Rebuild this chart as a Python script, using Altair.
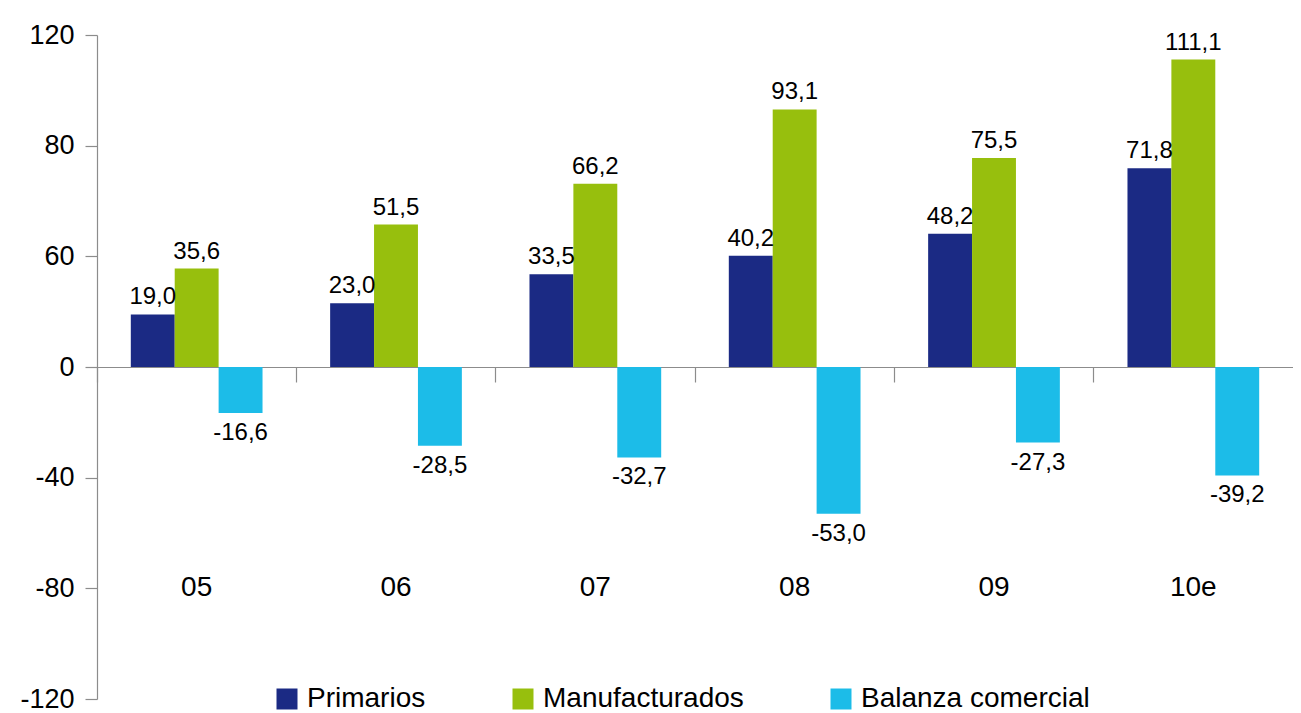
import altair as alt
import pandas as pd

years = ["05", "06", "07", "08", "09", "10e"]
series = ["Primarios", "Manufacturados", "Balanza comercial"]
primarios = [19.0, 23.0, 33.5, 40.2, 48.2, 71.8]
manufacturados = [35.6, 51.5, 66.2, 93.1, 75.5, 111.1]
balanza = [-16.6, -28.5, -32.7, -53.0, -27.3, -39.2]
colors = ["#1B2A84", "#97BF0D", "#1CBCE8"]
y_ticks = [-120, -80, -40, 0, 40, 80, 120]
cat_label_level = -80

rows = []
for s, vals in zip(series, [primarios, manufacturados, balanza]):
    for yr, v in zip(years, vals):
        rows.append({"year": yr, "serie": s, "valor": v,
                     "etiqueta": f"{v:.1f}".replace(".", ",")})
df = pd.DataFrame(rows)
cats = pd.DataFrame({"year": years})

W, H = 1196, 664
FONT = "Liberation Sans"
AXIS_GREY = "#8C8C8C"

x_enc = alt.X(
    "year:N", sort=years,
    scale=alt.Scale(paddingInner=0, paddingOuter=0),
    axis=alt.Axis(title=None, labels=False, bandPosition=0, offset=-H / 2,
                  tickSize=15, tickColor=AXIS_GREY, domainColor=AXIS_GREY,
                  tickWidth=1.2, domainWidth=1.2, grid=False),
)
xoff_enc = alt.XOffset("serie:N", sort=series,
                       scale=alt.Scale(paddingInner=0, paddingOuter=0.77))
y_scale = alt.Scale(domain=[-120, 120], nice=False, zero=False)
y_enc = alt.Y(
    "valor:Q", scale=y_scale,
    axis=alt.Axis(title=None, values=y_ticks, grid=False,
                  labelExpr="datum.value == 40 ? '60' : '' + datum.value",
                  tickSize=12, labelPadding=11, labelFontSize=27,
                  labelColor="black", labelFont=FONT,
                  tickColor=AXIS_GREY, domainColor=AXIS_GREY,
                  tickWidth=1.2, domainWidth=1.2),
)

base = alt.Chart(df)

bars = base.mark_bar(cornerRadius=0).encode(
    x=x_enc, xOffset=xoff_enc, y=y_enc,
    color=alt.Color(
        "serie:N", sort=series,
        scale=alt.Scale(domain=series, range=colors),
        legend=alt.Legend(title=None, orient="none", direction="horizontal",
                          legendX=176, legendY=650, symbolType="square",
                          symbolSize=441, symbolStrokeWidth=0,
                          symbolOpacity=1, labelFontSize=28, labelOffset=6,
                          columnPadding=83, padding=0, labelFont=FONT,
                          labelColor="black", labelLimit=400),
    ),
)

pos_labels = base.transform_filter("datum.valor >= 0").mark_text(
    baseline="alphabetic", dy=-10, fontSize=24, font=FONT, color="black"
).encode(x=x_enc, xOffset=xoff_enc, y=y_enc, text="etiqueta:N")

neg_labels = base.transform_filter("datum.valor < 0").mark_text(
    baseline="top", dy=8, fontSize=24, font=FONT, color="black"
).encode(x=x_enc, xOffset=xoff_enc, y=y_enc, text="etiqueta:N")

cat_labels = alt.Chart(cats).mark_text(
    baseline="middle", fontSize=28, font=FONT, color="black"
).encode(x=x_enc, y=alt.datum(cat_label_level), text="year:N")

chart = alt.layer(bars, pos_labels, neg_labels, cat_labels).properties(
    width=W, height=H,
    autosize=alt.AutoSizeParams(type="none"),
    padding={"left": 89, "top": 27, "right": 0, "bottom": 14},
).configure(font=FONT).configure_view(stroke=None)

chart.save("out.html", embed_options={"renderer": "svg", "actions": False})
